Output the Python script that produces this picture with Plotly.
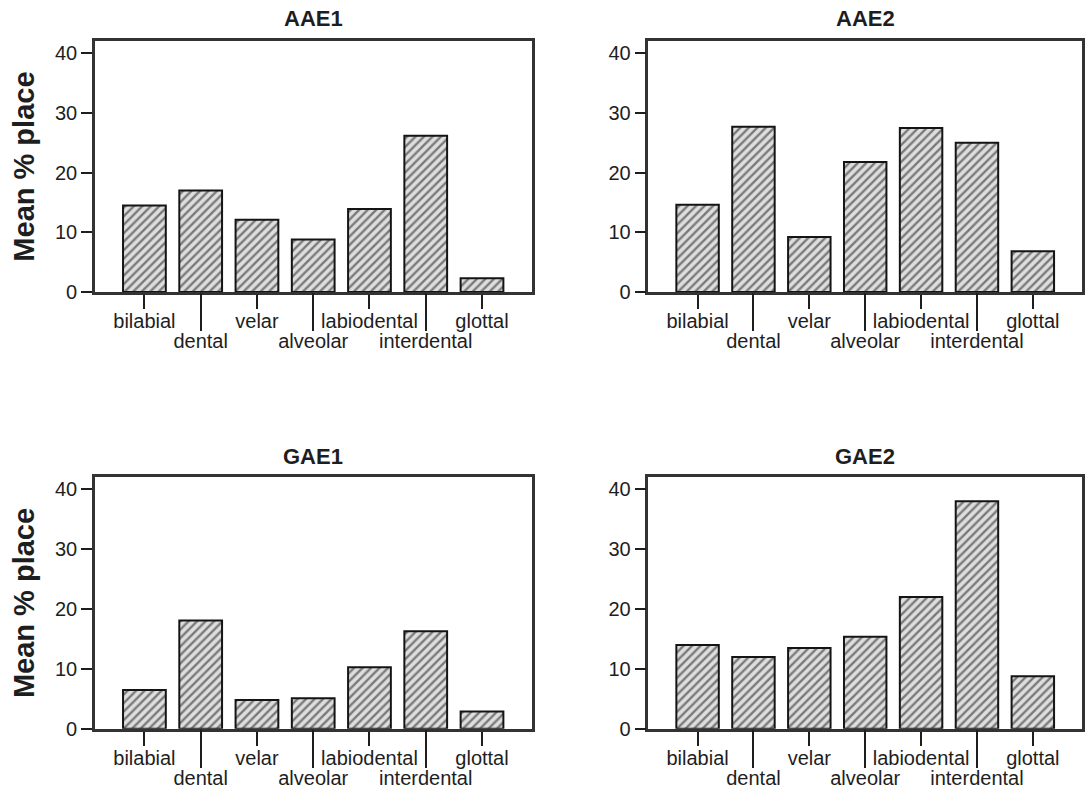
import plotly.graph_objects as go

# Place-of-articulation categories (x axis order)
categories = ["bilabial", "dental", "velar", "alveolar", "labiodental", "interdental", "glottal"]

# Mean % place per group
aae1 = [14.5, 17.0, 12.1, 8.8, 13.9, 26.2, 2.3]
aae2 = [14.6, 27.7, 9.2, 21.8, 27.5, 25.0, 6.8]
gae1 = [6.5, 18.1, 4.8, 5.1, 10.3, 16.3, 2.9]
gae2 = [14.0, 12.0, 13.5, 15.4, 22.0, 38.0, 8.8]

panel_titles = ["AAE1", "AAE2", "GAE1", "GAE2"]
panel_values = [aae1, aae2, gae1, gae2]

y_ticks = [0, 10, 20, 30, 40]
y_title = "Mean % place"

W, H = 1085, 801
FONT = "Liberation Sans, Arial, sans-serif"
INK = "#1e1e1e"
FRAME = "#333333"


def px_x(v):
    return v / W


def px_y(v):
    return (H - v) / H


x_domains = [[px_x(95), px_x(532)], [px_x(649), px_x(1083)]]
y_domains = [[px_y(296), px_y(42)], [px_y(739), px_y(484)]]
x_range = [-0.88, len(categories) - 1 + 0.88]

fig = go.Figure()
layout = dict(
    width=W, height=H,
    margin=dict(l=0, r=0, t=0, b=0),
    paper_bgcolor="white", plot_bgcolor="white",
    showlegend=False,
    font=dict(family=FONT, color=INK),
)

annotations = []
even_idx = list(range(0, len(categories), 2))
odd_idx = list(range(1, len(categories), 2))

for i, (title, vals) in enumerate(zip(panel_titles, panel_values)):
    row, col = divmod(i, 2)
    n = i + 1
    xa = "x" if n == 1 else f"x{n}"
    ya = "y" if n == 1 else f"y{n}"
    xkey = "xaxis" if n == 1 else f"xaxis{n}"
    ykey = "yaxis" if n == 1 else f"yaxis{n}"

    fig.add_trace(go.Bar(
        x=categories, y=vals, xaxis=xa, yaxis=ya,
        width=0.76,
        marker=dict(
            color="#dcdcdc",
            line=dict(color="#141414", width=2),
            pattern=dict(shape="/", fgcolor="#151515", bgcolor="#dedede",
                         size=6, solidity=0.4),
        ),
        hoverinfo="x+y",
    ))

    # main x axis: frame + short ticks with first-row labels
    layout[xkey] = dict(
        domain=x_domains[col], anchor=ya, type="category",
        categoryorder="array", categoryarray=categories,
        range=x_range,
        tickmode="array",
        tickvals=[categories[k] for k in even_idx],
        ticktext=[categories[k] for k in even_idx],
        ticks="outside", ticklen=14, tickwidth=2, tickcolor=INK,
        ticklabelstandoff=-5,
        tickfont=dict(size=20, family=FONT, color=INK),
        showline=True, linecolor=FRAME, linewidth=2.5, mirror=True,
        showgrid=False, zeroline=False, fixedrange=True,
    )
    # overlaid x axis: long ticks with second-row labels
    okey = f"xaxis{n + 4}"
    layout[okey] = dict(
        overlaying=xa, anchor=ya, side="bottom",
        range=x_range, tickmode="array",
        tickvals=odd_idx,
        ticktext=[categories[k] for k in odd_idx],
        ticks="outside", ticklen=38, tickwidth=2, tickcolor=INK,
        ticklabelstandoff=-7,
        tickfont=dict(size=20, family=FONT, color=INK),
        showline=False, showgrid=False, zeroline=False, fixedrange=True,
    )
    layout[ykey] = dict(
        domain=y_domains[row], anchor=xa,
        range=[0, 42], tickmode="array", tickvals=y_ticks,
        ticks="outside", ticklen=11, tickwidth=2, tickcolor=INK,
        tickfont=dict(size=20, family=FONT, color=INK),
        showline=True, linecolor=FRAME, linewidth=2.5, mirror=True,
        showgrid=False, zeroline=False, fixedrange=True,
    )

    xc = sum(x_domains[col]) / 2
    ty = 19 if row == 0 else 463
    annotations.append(dict(
        text=f"<b>{title}</b>", x=xc, y=px_y(ty), xref="paper", yref="paper",
        xanchor="center", yanchor="middle", showarrow=False,
        font=dict(size=22, family=FONT, color=INK),
    ))
    if col == 0:
        annotations.append(dict(
            text=f"<b>{y_title}</b>", x=px_x(24), y=sum(y_domains[row]) / 2,
            xref="paper", yref="paper", xanchor="center", yanchor="middle",
            textangle=-90, showarrow=False,
            font=dict(size=29, family=FONT, color=INK),
        ))

layout["annotations"] = annotations
fig.update_layout(**layout)

# a hidden point on each overlaid axis so its subplot is built
for n in range(1, 5):
    ya = "y" if n == 1 else f"y{n}"
    fig.add_trace(go.Scatter(x=[0], y=[0], xaxis=f"x{n + 4}", yaxis=ya,
                             mode="markers", marker=dict(opacity=0),
                             hoverinfo="skip"))

fig.write_html("out.html")
